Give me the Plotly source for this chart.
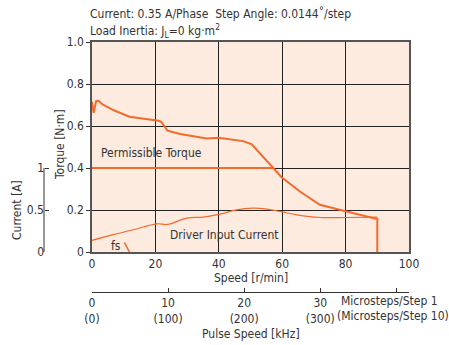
import plotly.graph_objects as go

# Pull-out torque curve (speed r/min, torque N·m)
torque_speed = [0, 0.5, 1.3, 2.1, 3.2, 6.7, 11.8, 16.2, 21.0, 21.9, 23.8, 27.8, 36.2, 39.9, 47.7, 50.4, 53.0, 59.8, 65.6, 71.9, 80.3, 90.0, 90.0]
torque_vals = [0.715, 0.663, 0.718, 0.72, 0.704, 0.676, 0.644, 0.636, 0.625, 0.619, 0.578, 0.562, 0.541, 0.544, 0.528, 0.513, 0.47, 0.356, 0.288, 0.225, 0.193, 0.157, 0.0]

# Permissible torque
perm_speed = [0, 57.3]
perm_vals = [0.4, 0.4]

# Driver input current (A)
cur_speed = [0, 6.7, 13.0, 20.4, 23.8, 29.9, 35.1, 40.4, 45.6, 50.9, 54.6, 59.3, 64.6, 71.9, 80.3, 90.0]
cur_vals = [0.138, 0.206, 0.265, 0.336, 0.328, 0.403, 0.415, 0.45, 0.502, 0.522, 0.514, 0.483, 0.443, 0.411, 0.411, 0.415]

# fs marker segment
fs_speed = [10.2, 11.8]
fs_vals = [0.046, 0.0]

torque_ticks = [0, 0.2, 0.4, 0.6, 0.8, 1.0]
torque_ticklabels = ["0", "0.2", "0.4", "0.6", "0.8", "1.0"]
speed_ticks = [0, 20, 40, 60, 80, 100]
current_ticks = [0, 0.5, 1]
current_ticklabels = ["0", "0.5", "1"]
pulse_ticks = [0, 10, 20, 30, 40]
pulse_ticklabels = ["0<br>(0)", "10<br>(100)", "20<br>(200)", "30<br>(300)", ""]

ORANGE = "#F26A2C"
BG = "#FDEBDF"
FONT = "DejaVu Sans Condensed, Liberation Sans Narrow, Liberation Sans, Arial, sans-serif"
FS = 12
TXT = "#333333"

W, H = 449, 345
ml, mr, mt, mb = 20, 40, 42, 53
pw = W - ml - mr
ph = H - mt - mb
x0 = (92 - ml) / pw
ybot = (292 - 252) / ph

fig = go.Figure()
fig.add_trace(go.Scatter(x=torque_speed, y=torque_vals, mode="lines",
                         line=dict(color=ORANGE, width=2), xaxis="x", yaxis="y", hoverinfo="skip"))
fig.add_trace(go.Scatter(x=perm_speed, y=perm_vals, mode="lines",
                         line=dict(color=ORANGE, width=2), xaxis="x", yaxis="y", hoverinfo="skip"))
fig.add_trace(go.Scatter(x=fs_speed, y=fs_vals, mode="lines",
                         line=dict(color=ORANGE, width=1.5), xaxis="x", yaxis="y", hoverinfo="skip"))
fig.add_trace(go.Scatter(x=cur_speed, y=cur_vals, mode="lines", line_shape="spline",
                         line=dict(color=ORANGE, width=1.2), xaxis="x", yaxis="y2", hoverinfo="skip"))
# invisible trace so the pulse-speed axis is drawn
fig.add_trace(go.Scatter(x=[0], y=[0], mode="markers", marker=dict(opacity=0),
                         xaxis="x2", yaxis="y", hoverinfo="skip"))

fig.update_layout(
    width=W, height=H,
    margin=dict(l=ml, r=mr, t=mt, b=mb),
    paper_bgcolor="white",
    plot_bgcolor=BG,
    showlegend=False,
    font=dict(family=FONT, size=FS, color=TXT),
    xaxis=dict(domain=[x0, 1], range=[0, 100], tickvals=speed_ticks,
               showgrid=True, gridcolor="#222222", gridwidth=1,
               zeroline=False, showline=True, linecolor="#555555", linewidth=1.5, mirror=True,
               ticks="", anchor="y", fixedrange=True),
    yaxis=dict(domain=[ybot, 1], range=[0, 1], tickvals=torque_ticks, ticktext=torque_ticklabels,
               showgrid=True, gridcolor="#222222", gridwidth=1,
               zeroline=False, showline=True, linecolor="#555555", linewidth=1.5, mirror=True,
               ticks="outside", ticklen=4, tickcolor="#333333", anchor="x", fixedrange=True),
    yaxis2=dict(overlaying="y", range=[0, 2.5], tickvals=current_ticks, ticktext=current_ticklabels,
                showgrid=False, zeroline=False, showline=False,
                ticks="inside", ticklen=4, tickcolor="#333333",
                anchor="free", position=(44 - ml) / pw, side="left", fixedrange=True),
    xaxis2=dict(overlaying="x", range=[0, 100 / 2.4], tickvals=pulse_ticks, ticktext=pulse_ticklabels,
                showgrid=False, zeroline=False, showline=True, linecolor="#333333", linewidth=1,
                ticks="inside", ticklen=4, tickcolor="#333333",
                anchor="free", position=0, side="bottom", fixedrange=True),
)

# axis line of the current scale (spans 0 .. 1 A only)
fig.add_shape(type="line", xref="paper", yref="y2", x0=(44 - ml) / pw, x1=(44 - ml) / pw,
              y0=current_ticks[0], y1=current_ticks[-1], line=dict(color="#333333", width=1))

def py2paper(py):
    return (H - mb - py) / ph

def px2paper(px):
    return (px - ml) / pw

ann = [
    dict(text="Current: 0.35 A/Phase  Step Angle: 0.0144˚/step", x=px2paper(88), y=py2paper(14),
         xanchor="left", yanchor="middle"),
    dict(text="Load Inertia: J<sub>L</sub>=0 kg·m<sup>2</sup>", x=px2paper(88), y=py2paper(31),
         xanchor="left", yanchor="middle"),
    dict(text="Speed [r/min]", x=px2paper(250.5), y=py2paper(278), xanchor="center", yanchor="middle"),
    dict(text="Pulse Speed [kHz]", x=px2paper(250.5), y=py2paper(334), xanchor="center", yanchor="middle"),
    dict(text="Microsteps/Step 1", x=px2paper(389), y=py2paper(301), xanchor="center", yanchor="middle"),
    dict(text="(Microsteps/Step 10)", x=px2paper(393), y=py2paper(316), xanchor="center", yanchor="middle"),
    dict(text="Torque [N·m]", x=px2paper(60), y=py2paper(145), xanchor="center", yanchor="middle", textangle=-90),
    dict(text="Current [A]", x=px2paper(17), y=py2paper(210), xanchor="center", yanchor="middle", textangle=-90),
]
for a in ann:
    a.update(xref="paper", yref="paper", showarrow=False)
    fig.add_annotation(**a)

fig.add_annotation(text="Permissible Torque", x=18.8, y=0.47, xref="x", yref="y", showarrow=False)
fig.add_annotation(text="Driver Input Current", x=41.7, y=0.082, xref="x", yref="y", showarrow=False)
fig.add_annotation(text="fs", x=7.6, y=0.03, xref="x", yref="y", showarrow=False)

fig.write_html("out.html", config={"displayModeBar": False},
               post_script="document.body.style.margin='0';")
